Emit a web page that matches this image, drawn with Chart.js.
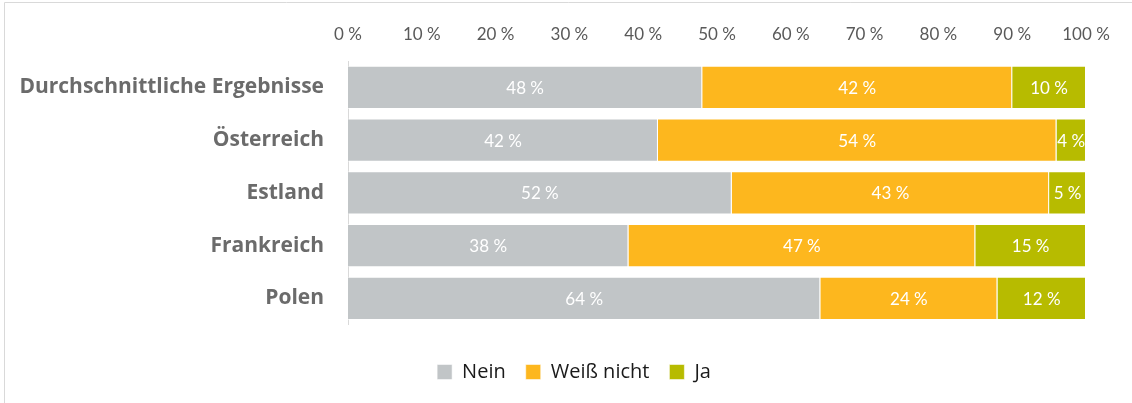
<!DOCTYPE html>
<html>
<head>
<meta charset="utf-8">
<script src="https://cdn.jsdelivr.net/npm/chart.js@4/dist/chart.umd.min.js"></script>
<style>
  html, body { margin: 0; padding: 0; background: #fff; }
  #wrap { width: 1132px; height: 403px; position: relative; }
</style>
</head>
<body>
<div id="wrap"><canvas id="chart" width="1132" height="403"></canvas></div>
<script>
// data
var countries = ['Durchschnittliche Ergebnisse', 'Österreich', 'Estland', 'Frankreich', 'Polen'];
var nein = [48, 42, 52, 38, 64];
var weissNicht = [42, 54, 43, 47, 24];
var ja = [10, 4, 5, 15, 12];
var xTicks = [0, 10, 20, 30, 40, 50, 60, 70, 80, 90, 100];

// the light frame around the picture (left and top only)
var framePlugin = {
  id: 'frame',
  beforeDraw: function(chart) {
    var ctx = chart.ctx;
    ctx.save();
    ctx.strokeStyle = '#d9d9d9';
    ctx.lineWidth = 1;
    ctx.beginPath();
    ctx.moveTo(4.5, 403);
    ctx.lineTo(4.5, 2.5);
    ctx.lineTo(1132, 2.5);
    ctx.stroke();
    ctx.restore();
  }
};

// legend sits centred on the whole picture, not only the padded part
var legendShift = {
  id: 'legendShift',
  afterLayout: function(chart) {
    if (chart.legend) {
      chart.legend.left += 26;
      chart.legend.right += 26;
    }
  }
};

// white value labels in the middle of each segment
var valueLabels = {
  id: 'valueLabels',
  afterDatasetsDraw: function(chart) {
    var ctx = chart.ctx;
    ctx.save();
    ctx.fillStyle = '#ffffff';
    ctx.font = '17px Lato';
    ctx.textAlign = 'center';
    ctx.textBaseline = 'middle';
    chart.data.datasets.forEach(function(ds, i) {
      chart.getDatasetMeta(i).data.forEach(function(bar, j) {
        var p = bar.getProps(['x', 'y', 'base'], true);
        ctx.fillText(ds.data[j] + ' %', (p.x + p.base) / 2, p.y + 1);
      });
    });
    ctx.restore();
  }
};

var config = {
  type: 'bar',
  data: {
    labels: countries,
    datasets: [
      { label: 'Nein', data: nein, backgroundColor: '#c1c5c7' },
      { label: 'Weiß nicht', data: weissNicht, backgroundColor: '#fdb71e' },
      { label: 'Ja', data: ja, backgroundColor: '#b7bb00' }
    ]
  },
  options: {
    indexAxis: 'y',
    responsive: false,
    animation: false,
    datasets: {
      bar: {
        barPercentage: 0.82,
        categoryPercentage: 1,
        borderWidth: 1,
        borderColor: 'rgba(255,255,255,0.55)'
      }
    },
    layout: {
      padding: { left: 10, right: 46, top: 20, bottom: 11 }
    },
    scales: {
      x: {
        position: 'top',
        stacked: true,
        min: 0,
        max: 100,
        afterBuildTicks: function(scale) {
          scale.ticks = xTicks.map(function(v) { return { value: v }; });
        },
        afterFit: function(scale) { scale.height = 41; },
        grid: { display: false, drawTicks: false },
        border: { display: false },
        ticks: {
          padding: 16,
          color: '#595959',
          font: { family: 'Lato', size: 17 },
          callback: function(v) { return v + ' %'; }
        }
      },
      y: {
        stacked: true,
        afterFit: function(scale) { scale.width = 338; },
        grid: { display: false, drawTicks: false },
        border: { display: true, color: '#d9d9d9' },
        ticks: {
          padding: 24,
          color: '#6b6b6b',
          font: { family: 'Open Sans', size: 21, weight: 'bold' }
        }
      }
    },
    plugins: {
      legend: {
        position: 'bottom',
        // empty title only pushes the legend row down, away from the bars
        title: { display: true, text: ' ', font: { size: 1 }, padding: { top: 16, bottom: 0 } },
        labels: {
          boxWidth: 15,
          boxHeight: 15,
          padding: 20,
          color: '#1a1a1a',
          font: { family: 'Open Sans', size: 20 }
        }
      },
      tooltip: { enabled: false }
    }
  },
  plugins: [framePlugin, legendShift, valueLabels]
};

window.onload = function() {
  var ctx = document.getElementById('chart').getContext('2d');
  window.myChart = new Chart(ctx, config);
};
</script>
</body>
</html>
